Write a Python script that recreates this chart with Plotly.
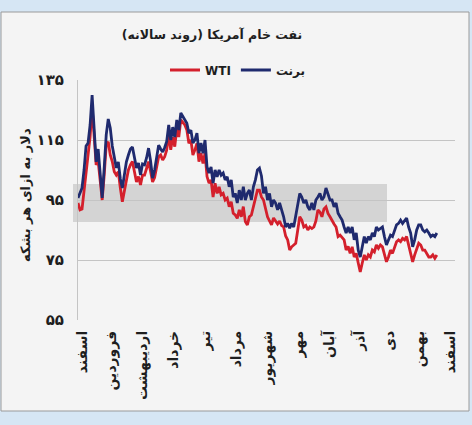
import plotly.graph_objects as go
import pandas as pd

# ---- data (USD per barrel, sampled about every 2 days) ----
brent = [
    95.7, 97.5, 99, 105, 113, 114, 120, 130, 118, 107.7,
    112, 102, 95.7, 105.7, 116.7, 122, 119, 113, 109, 105.7,
    107.7, 102, 99, 103, 107.7, 110, 112, 112.7, 109, 105.7,
    107.3, 103.3, 107, 106.7, 109, 112.3, 108, 102.3, 105, 110,
    113.3, 112, 111, 112.5, 114.5, 120, 115, 119.3, 116, 121.7,
    118.3, 124, 122.7, 121.7, 120.6, 117.3, 118.3, 114, 115, 117.3,
    110.6, 114, 110.6, 115, 106, 104, 106, 100.6, 105, 102.7,
    105, 103.3, 104, 101.7, 102.7, 99.4, 101.7, 96, 97.2, 94,
    98.3, 95, 99.4, 95, 97.2, 98.3, 95, 99.4, 101.7, 105,
    105.6, 103, 97.2, 99.4, 95, 97.2, 92.7, 95, 94, 91.7,
    94, 91.7, 89.4, 86, 87.2, 85.6, 87.2, 86, 89.4, 92.7,
    97.2, 96, 94, 95, 92.7, 91.7, 94, 91.7, 95, 96,
    97.2, 95, 96, 99, 97.2, 95, 95, 92.7, 94, 90.6,
    89.4, 88.3, 86, 84, 86, 84, 86, 81.7, 84, 78.3,
    76, 79.4, 82.8, 80.6, 82.8, 81.7, 84, 82.8, 86, 85,
    85.6, 86, 82.8, 80, 81.7, 83.3, 82.8, 85, 86.7, 87.2,
    88.3, 87.2, 88.3, 89, 86, 84, 79.4, 81.7, 85, 86.7,
    86.7, 85, 84.4, 85, 84, 82.8, 83.3, 82.8, 84,
]
wti = [
    94, 91.7, 92, 97.7, 105, 111, 116, 126, 115, 106.7,
    108, 100, 95, 103.3, 113.3, 114.4, 110, 107.8, 104.4, 103.3,
    104.4, 99, 94.4, 98, 102.2, 105, 106.7, 107.8, 104.4, 101,
    102.8, 100, 103.3, 103.3, 105.5, 107.8, 104.5, 101, 102.5, 106.5,
    109.4, 110, 108.3, 109.4, 111.7, 117, 111.7, 116, 112.8, 118.9,
    116, 121.7, 121, 120, 118.3, 113.9, 115, 110, 111.7, 113.9,
    107.8, 110.6, 107.2, 110.6, 102.8, 100.6, 101.7, 96, 100.6, 97.2,
    99.4, 96.7, 97.2, 95, 95.6, 92.8, 94.4, 90.6, 90, 88.9,
    91.7, 89.4, 92.8, 87.8, 86.7, 89.4, 90, 92.8, 95, 98.3,
    98.3, 96, 95, 92, 89.4, 88, 86.7, 89, 88, 87,
    88, 86.5, 86, 83, 81.7, 78.3, 79.4, 80, 80.6, 85,
    89.4, 88.3, 86, 86.5, 85, 86, 85.5, 86, 88, 91.7,
    91, 89.4, 92, 92.7, 90.5, 89.4, 88, 87, 86, 82.8,
    83.3, 82.5, 81.7, 78.3, 79.5, 77.2, 79.4, 76, 77.2, 74,
    71, 74, 76.7, 75, 76.7, 76, 78.3, 77.7, 80, 78.9,
    80, 79.4, 77.2, 74.4, 76, 78.3, 77.2, 79.4, 81.1, 81.7,
    81.1, 82.2, 81.7, 82.8, 80, 77.2, 74.4, 76.7, 78.9, 80.6,
    80, 78.3, 78.3, 77.2, 76, 76, 76.7, 75.6, 76.7,
]
start_date = "2022-02-16"
dates = pd.date_range(start_date, periods=len(brent), freq="2D")

month_starts = ["2022-02-20", "2022-03-21", "2022-04-21", "2022-05-22", "2022-06-22",
                "2022-07-23", "2022-08-23", "2022-09-23", "2022-10-23", "2022-11-22",
                "2022-12-22", "2023-01-21", "2023-02-20"]
month_names = ["اسفند", "فروردین", "اردیبهشت", "خرداد", "تیر", "مرداد", "شهریور",
               "مهر", "آبان", "آذر", "دی", "بهمن", "اسفند"]
y_ticks = [55, 75, 95, 115, 135]
y_tick_text = ["۵۵", "۷۵", "۹۵", "۱۱۵", "۱۳۵"]

title_text = "نفت خام آمریکا (روند سالانه)"
y_title = "دلار به ازای هر بشکه"

FONT = "DejaVu Sans"
NAVY = "#1f2a6e"
RED = "#d4202c"
TXT = "#1e1e1e"

fig = go.Figure()
fig.add_trace(go.Scatter(x=dates, y=wti, mode="lines", name="WTI",
                         line=dict(color=RED, width=2.8)))
fig.add_trace(go.Scatter(x=dates, y=brent, mode="lines", name="برنت",
                         line=dict(color=NAVY, width=2.8)))

W, H = 472, 425
L, R, T, B = 78, 17, 80, 105
pw, ph = W - L - R, H - T - B

def px_x(p):
    return (p - L) / pw

def px_y(p):
    return (H - B - p) / ph

shapes = [
    # panel
    dict(type="rect", xref="paper", yref="paper", x0=px_x(1), x1=px_x(469),
         y0=px_y(411), y1=px_y(12), fillcolor="#f4f4f4",
         line=dict(color="#9a9a9a", width=1), layer="below"),
    # watermark band
    dict(type="rect", xref="paper", yref="paper", x0=px_x(73), x1=px_x(387),
         y0=px_y(222), y1=px_y(184), fillcolor="#d4d4d4",
         line=dict(width=0), layer="below"),
]

fig.update_layout(
    width=W, height=H,
    margin=dict(l=L, r=R, t=T, b=B, autoexpand=False),
    paper_bgcolor="#d6e6f4",
    plot_bgcolor="rgba(0,0,0,0)",
    shapes=shapes,
    title=dict(text=title_text, x=212 / W, xanchor="center",
               y=1 - 35 / H, yanchor="middle",
               font=dict(family=FONT, size=12.5, color=TXT, weight="bold")),
    showlegend=True,
    legend=dict(orientation="h", x=px_x(238), xanchor="center", y=px_y(70),
                yanchor="middle",
                font=dict(family=FONT, size=12, color=TXT, weight="bold"),
                itemwidth=30, bgcolor="rgba(0,0,0,0)", tracegroupgap=0),
    annotations=[
        dict(text=y_title, xref="paper", yref="paper",
             x=px_x(25), y=px_y(195), xanchor="center", yanchor="middle",
             textangle=-90, showarrow=False,
             font=dict(family=FONT, size=13, color=TXT, weight="bold")),
    ],
)
fig.update_xaxes(
    type="date", range=["2022-02-16", "2023-02-25"],
    tickvals=month_starts, ticktext=month_names,
    tickangle=-90, automargin=False, ticklabelstandoff=7,
    showgrid=False, showline=False, zeroline=False, ticks="",
    tickfont=dict(family=FONT, size=14, color=TXT, weight="bold"),
)
fig.update_yaxes(
    range=[55, 135], tickvals=y_ticks, ticktext=y_tick_text,
    automargin=False, ticklabelstandoff=10,
    showgrid=True, gridcolor="#c4c4c4", gridwidth=1,
    showline=True, linecolor="#c4c4c4", zeroline=False, ticks="",
    tickfont=dict(family=FONT, size=15, color=TXT, weight="bold"),
)

fig.write_html("out.html", config={"displayModeBar": False},
               post_script="document.body.style.margin='0px';")
